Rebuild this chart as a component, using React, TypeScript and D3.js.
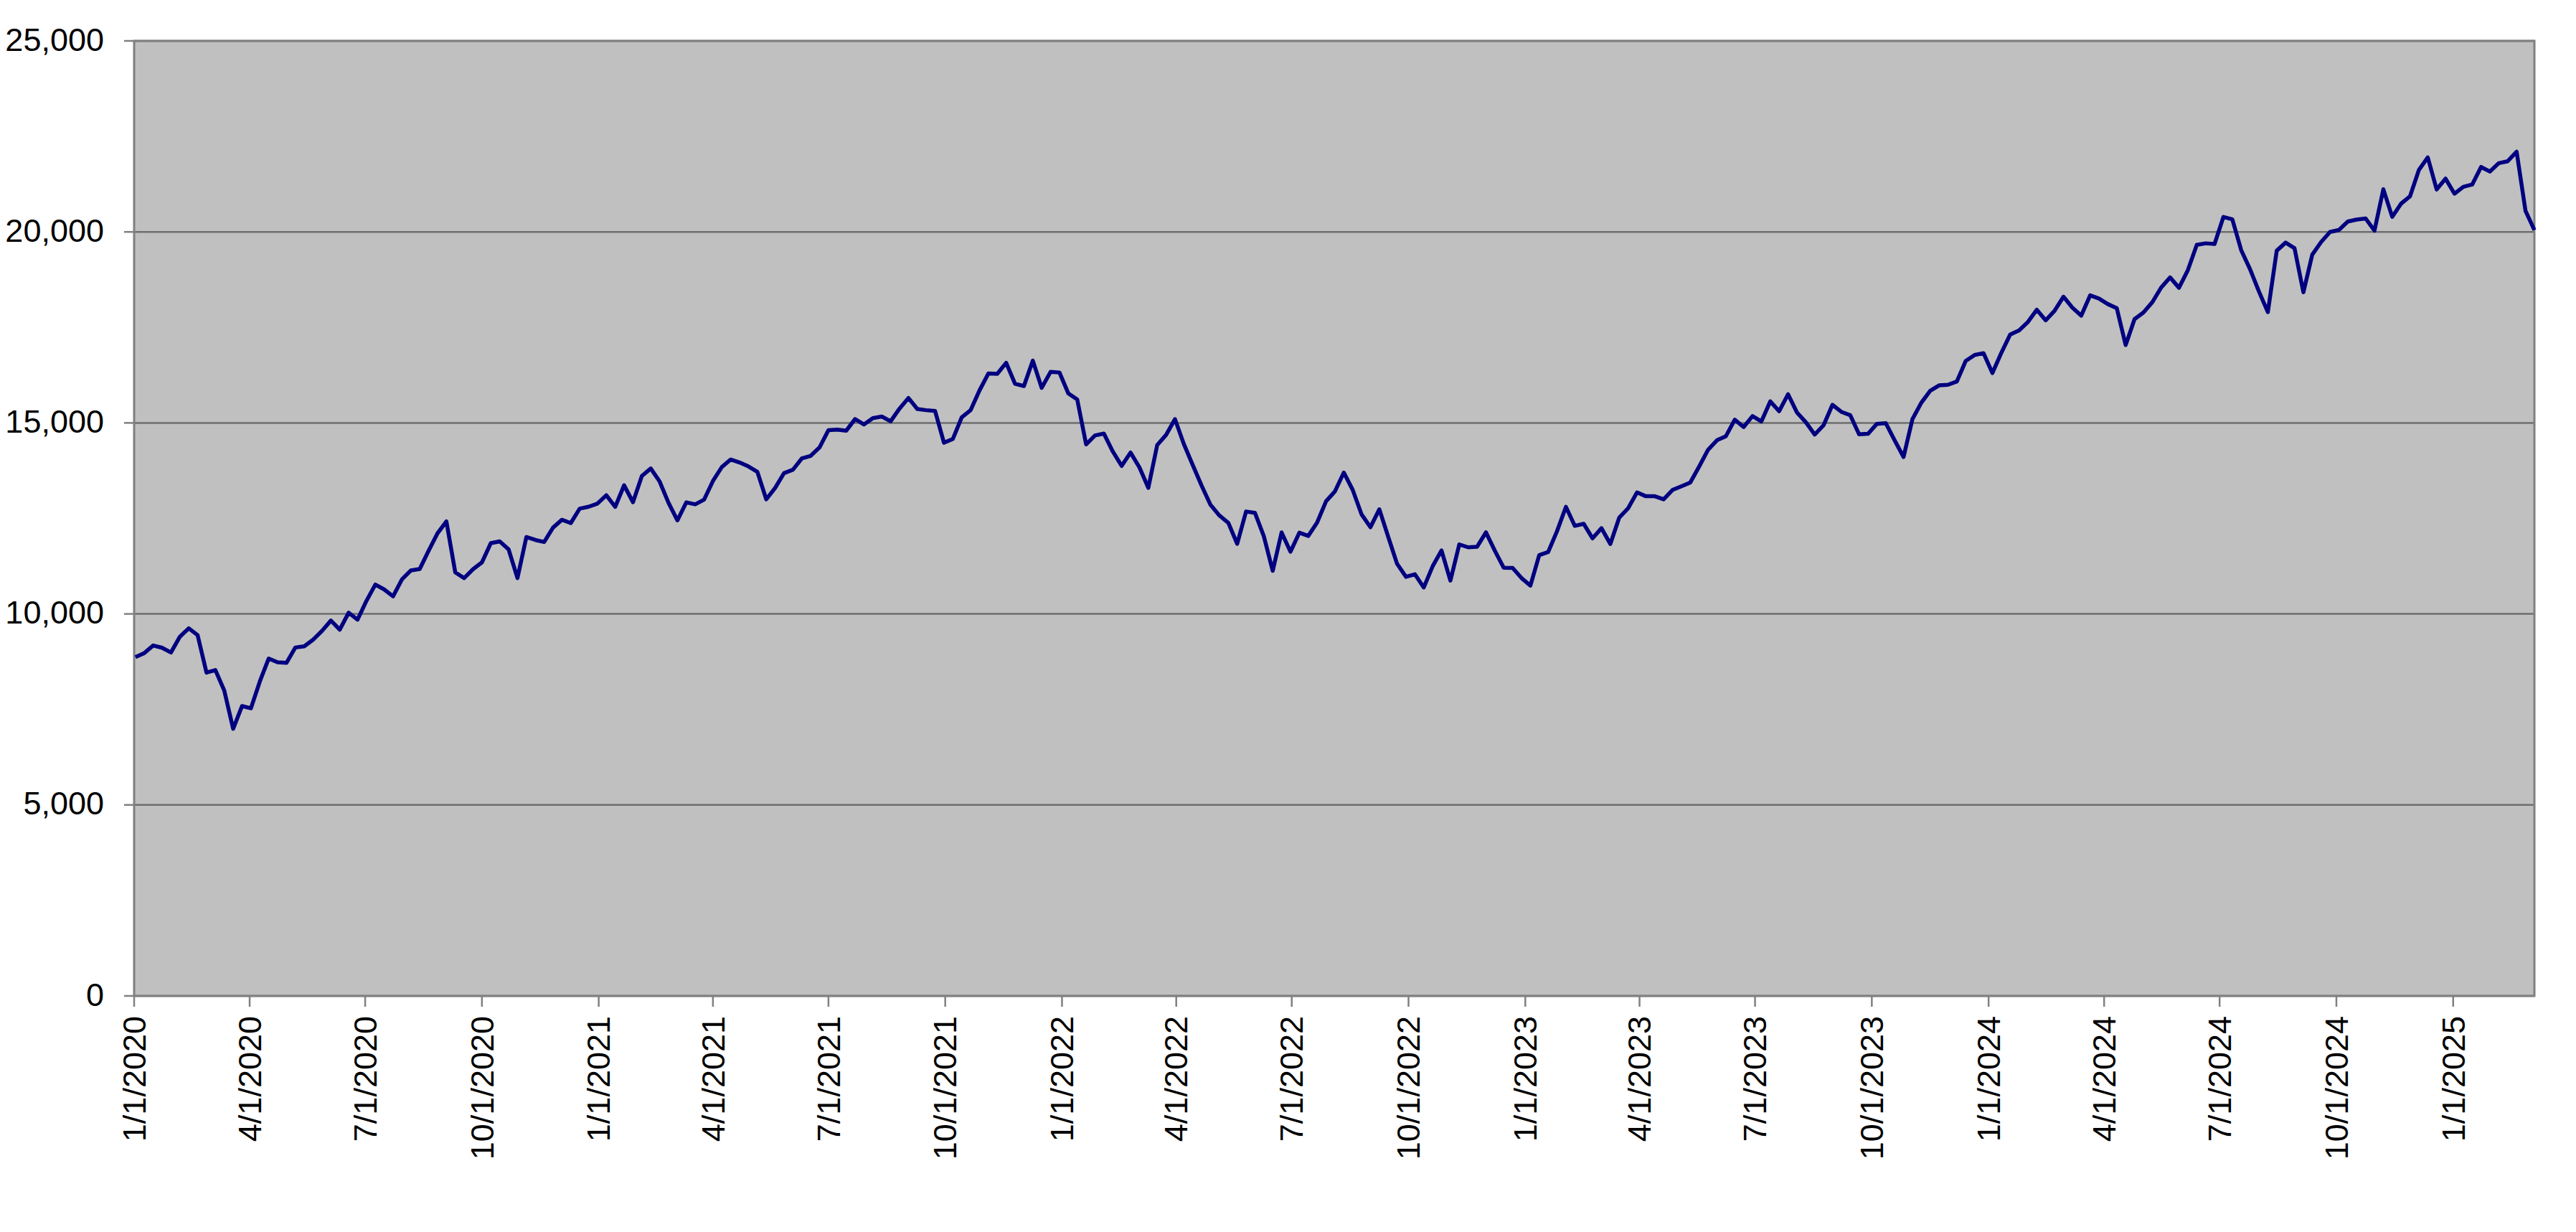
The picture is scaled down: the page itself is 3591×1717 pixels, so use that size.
import * as d3 from "d3";

// weekly closes, one per week starting 2020-01-02 (last point 2025-03-06)
const startDate = new Date(2020, 0, 2);

const closes2020 = [
  8872, 8975, 9174, 9114, 8991, 9402, 9623, 9446, 8462, 8530, 7995, 6994, 7588,
  7528, 8231, 8832, 8734, 8719, 9121, 9152, 9325, 9555, 9825, 9589, 10032, 9849,
  10341, 10768, 10640, 10461, 10905, 11139, 11177, 11654, 12110, 12420, 11087,
  10938, 11172, 11350, 11852, 11900, 11690, 10938, 12012, 11937, 11883, 12258,
  12464, 12378, 12756, 12805, 12888,
];
const closes2021 = [
  13105, 12803, 13366, 12925, 13612, 13807, 13466, 12909, 12450, 12920, 12869,
  12991, 13480, 13845, 14041, 13963, 13860, 13720, 13000, 13298, 13687, 13774,
  14069, 14137, 14358, 14810, 14826, 14797, 15101, 14960, 15126, 15167, 15043,
  15375, 15652, 15364, 15334, 15313, 14480, 14580, 15146, 15335, 15850, 16295,
  16284, 16573, 16025, 15966, 16631, 15918, 16337, 16320,
];
const closes2022 = [
  15771, 15612, 14438, 14672, 14722, 14253, 13875, 14224, 13837, 13301, 14421,
  14686, 15100, 14446, 13897, 13358, 12855, 12577, 12387, 11835, 12681, 12644,
  12035, 11128, 12133, 11628, 12126, 12042, 12394, 12947, 13208, 13700, 13249,
  12605, 12270, 12739, 12017, 11311, 10971, 11039, 10693, 11247, 11661, 10872,
  11819, 11744, 11758, 12135, 11655, 11210, 11205, 10940,
];
const closes2023 = [
  10741, 11541, 11619, 12167, 12803, 12305, 12359, 11979, 12245, 11830, 12520,
  12767, 13181, 13080, 13080, 13000, 13246, 13340, 13440, 13858, 14298, 14547,
  14651, 15083, 14891, 15179, 15039, 15565, 15307, 15751, 15274, 15018, 14695,
  14941, 15473, 15290, 15202, 14701, 14715, 14976, 14995, 14542, 14109, 15099,
  15529, 15841, 15983, 15998, 16085, 16624, 16777, 16826,
];
const closes2024 = [
  16305, 16832, 17314, 17421, 17642, 17962, 17685, 17937, 18302, 18017, 17808,
  18339, 18255, 18109, 18003, 17037, 17718, 17891, 18161, 18547, 18809, 18537,
  19000, 19660, 19701, 19683, 20392, 20331, 19523, 19023, 18440, 17900, 19508,
  19720, 19575, 18421, 19404, 19736, 20000, 20050, 20272, 20324, 20352, 20033,
  21117, 20394, 20741, 20930, 21622, 21950, 21110, 21394,
];
const closes2025 = [21000, 21180, 21240, 21700, 21580, 21800, 21850, 22100, 20550, 20050];

const closes = [
  ...closes2020,
  ...closes2021,
  ...closes2022,
  ...closes2023,
  ...closes2024,
  ...closes2025,
];

const yTicks = [0, 5000, 10000, 15000, 20000, 25000];

const W = 3591;
const H = 1717;
const margin = { top: 57, right: 58, bottom: 329, left: 187 };
const FONT = "'Liberation Sans', Arial, sans-serif";

export default function App() {
  const data = closes.map((v, i) => ({
    date: d3.timeDay.offset(startDate, i * 7),
    value: v,
  }));

  const x = d3
    .scaleTime()
    .domain([new Date(2020, 0, 1), data[data.length - 1].date])
    .range([margin.left, W - margin.right]);

  const y = d3
    .scaleLinear()
    .domain([0, 25000])
    .range([H - margin.bottom, margin.top]);

  const xTicks = d3.timeMonth.every(3)!.range(new Date(2020, 0, 1), new Date(2025, 0, 2));
  const fmtDate = d3.timeFormat("%-m/%-d/%Y");
  const fmtNum = d3.format(",");

  const line = d3
    .line<{ date: Date; value: number }>()
    .x((d) => x(d.date))
    .y((d) => y(d.value));

  const [x0, x1] = x.range();
  const [y0, y1] = y.range();

  return (
    <svg
      width={W}
      height={H}
      style={{ position: "fixed", left: 0, top: 0, background: "#fff" }}
    >
      {/* plot area */}
      <rect x={x0} y={y1} width={x1 - x0} height={y0 - y1} fill="#c0c0c0" />

      {/* gridlines */}
      {yTicks.map((t) => (
        <line key={t} x1={x0} x2={x1} y1={y(t)} y2={y(t)} stroke="#6e6e6e" strokeWidth={2.5} />
      ))}

      {/* frame */}
      <rect
        x={x0}
        y={y1}
        width={x1 - x0}
        height={y0 - y1}
        fill="none"
        stroke="#808080"
        strokeWidth={3}
      />

      {/* y axis */}
      {yTicks.map((t) => (
        <g key={t}>
          <line x1={x0 - 14} x2={x0} y1={y(t)} y2={y(t)} stroke="#808080" strokeWidth={2.5} />
          <text
            x={145}
            y={y(t)}
            dy="0.3em"
            textAnchor="end"
            fontFamily={FONT}
            fontSize={45}
            fill="#000"
          >
            {fmtNum(t)}
          </text>
        </g>
      ))}

      {/* x axis */}
      {xTicks.map((d) => (
        <g key={d.getTime()}>
          <line x1={x(d)} x2={x(d)} y1={y0} y2={y0 + 15} stroke="#808080" strokeWidth={2.5} />
          <text
            transform={`translate(${x(d)},${y0 + 28}) rotate(-90)`}
            dy="0.35em"
            textAnchor="end"
            fontFamily={FONT}
            fontSize={45}
            fill="#000"
          >
            {fmtDate(d)}
          </text>
        </g>
      ))}

      {/* series */}
      <path
        d={line(data) ?? ""}
        fill="none"
        stroke="#000080"
        strokeWidth={5.5}
        strokeLinejoin="round"
      />
    </svg>
  );
}
